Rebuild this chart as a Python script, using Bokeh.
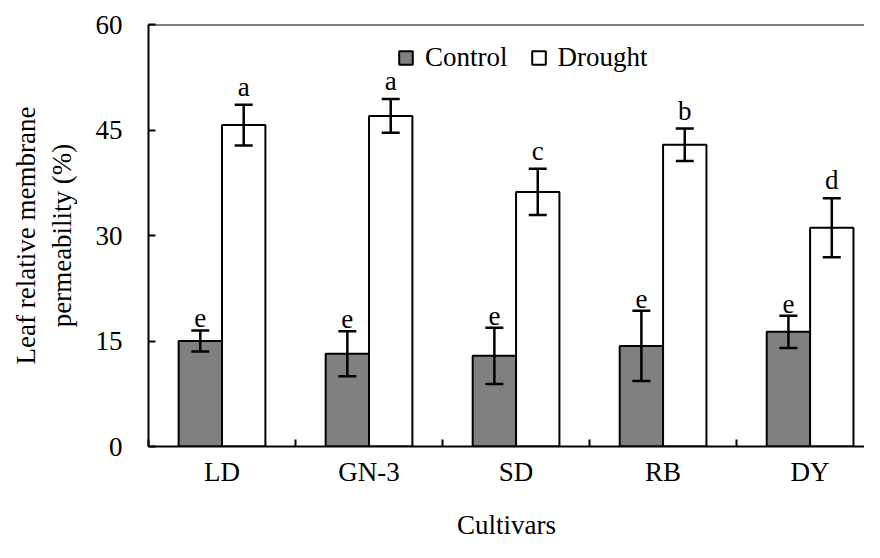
from bokeh.plotting import figure
from bokeh.models import ColumnDataSource, Whisker, TeeHead, FixedTicker, Span, Legend, LegendItem
from bokeh.core.properties import value
from bokeh.embed import file_html
from bokeh.resources import INLINE

cultivars = ["LD", "GN-3", "SD", "RB", "DY"]
control = [15.0, 13.2, 12.9, 14.3, 16.3]
control_err = [1.5, 3.2, 4.0, 5.0, 2.3]
drought = [45.7, 47.0, 36.2, 42.9, 31.1]
drought_err = [2.9, 2.4, 3.3, 2.3, 4.2]
control_letters = ["e", "e", "e", "e", "e"]
drought_letters = ["a", "a", "c", "b", "d"]
y_ticks = [0, 15, 30, 45, 60]

FONT = "Liberation Serif"
n = len(cultivars)
centers = [i + 0.5 for i in range(n)]
bw = 0.295
off = bw / 2

src_c = ColumnDataSource(dict(
    x=[c - off for c in centers], top=control,
    upper=[v + e for v, e in zip(control, control_err)],
    lower=[v - e for v, e in zip(control, control_err)],
    lab=control_letters))
src_d = ColumnDataSource(dict(
    x=[c + off for c in centers], top=drought,
    upper=[v + e for v, e in zip(drought, drought_err)],
    lower=[v - e for v, e in zip(drought, drought_err)],
    lab=drought_letters))

p = figure(width=864, height=542, output_backend="svg", toolbar_location=None,
           x_range=(0, 4.87), y_range=(0, 60),
           min_border_left=148, min_border_right=0, min_border_top=24, min_border_bottom=93)
p.outline_line_color = None
p.grid.visible = False
p.background_fill_color = "white"

r_c = p.vbar(x="x", top="top", width=bw, bottom=0, source=src_c,
             fill_color="#808080", line_color="black", line_width=2)
r_d = p.vbar(x="x", top="top", width=bw, bottom=0, source=src_d,
             fill_color="white", line_color="black", line_width=2)

for src in (src_c, src_d):
    w = Whisker(base="x", upper="upper", lower="lower", source=src,
                line_color="black", line_width=2.5, level="annotation",
                upper_head=TeeHead(size=18, line_width=2.5, line_color="black"),
                lower_head=TeeHead(size=18, line_width=2.5, line_color="black"))
    p.add_layout(w)
    p.text(x="x", y="upper", text="lab", source=src, text_align="center",
           text_baseline="bottom", y_offset=-3,
           text_font=value(FONT), text_font_size="27px", text_color="black")

top_line = Span(location=60, dimension="width", line_color="black", line_width=2)
p.add_layout(top_line)

# x axis
xa = p.xaxis[0]
xa.ticker = FixedTicker(ticks=centers, minor_ticks=[float(i) for i in range(n + 1)])
xa.major_label_overrides = {c: name for c, name in zip(centers, cultivars)}
xa.major_tick_in = 0
xa.major_tick_out = 0
xa.minor_tick_in = 7
xa.minor_tick_out = 0
xa.minor_tick_line_color = "black"
xa.minor_tick_line_width = 2
xa.axis_line_width = 2
xa.axis_line_color = "black"
xa.major_label_text_font = FONT
xa.major_label_text_font_size = "27px"
xa.major_label_text_color = "black"
xa.major_label_standoff = 10
xa.axis_label = "Cultivars"
xa.axis_label_text_font = FONT
xa.axis_label_text_font_size = "27px"
xa.axis_label_text_font_style = "normal"
xa.axis_label_text_color = "black"
xa.axis_label_standoff = 20

# y axis
ya = p.yaxis[0]
ya.ticker = FixedTicker(ticks=y_ticks)
ya.major_tick_in = 7
ya.major_tick_out = 0
ya.minor_tick_in = 0
ya.minor_tick_out = 0
ya.major_tick_line_width = 2
ya.axis_line_width = 2
ya.axis_line_color = "black"
ya.major_label_text_font = FONT
ya.major_label_text_font_size = "27px"
ya.major_label_text_color = "black"
ya.major_label_standoff = 26
ya.axis_label = "Leaf relative membrane\npermeability (%)"
ya.axis_label_text_font = FONT
ya.axis_label_text_font_size = "27px"
ya.axis_label_text_font_style = "normal"
ya.axis_label_text_color = "black"
ya.axis_label_standoff = 16

legend = Legend(items=[LegendItem(label="Control", renderers=[r_c]),
                       LegendItem(label="Drought", renderers=[r_d])],
                orientation="horizontal", location=(249, 373),
                glyph_width=17, glyph_height=17, label_standoff=11, spacing=22,
                padding=0, margin=0, border_line_color=None, background_fill_alpha=0,
                label_text_font=FONT, label_text_font_size="27px", label_text_color="black")
p.add_layout(legend, "center")

open("out.html", "w").write(file_html(p, INLINE))
